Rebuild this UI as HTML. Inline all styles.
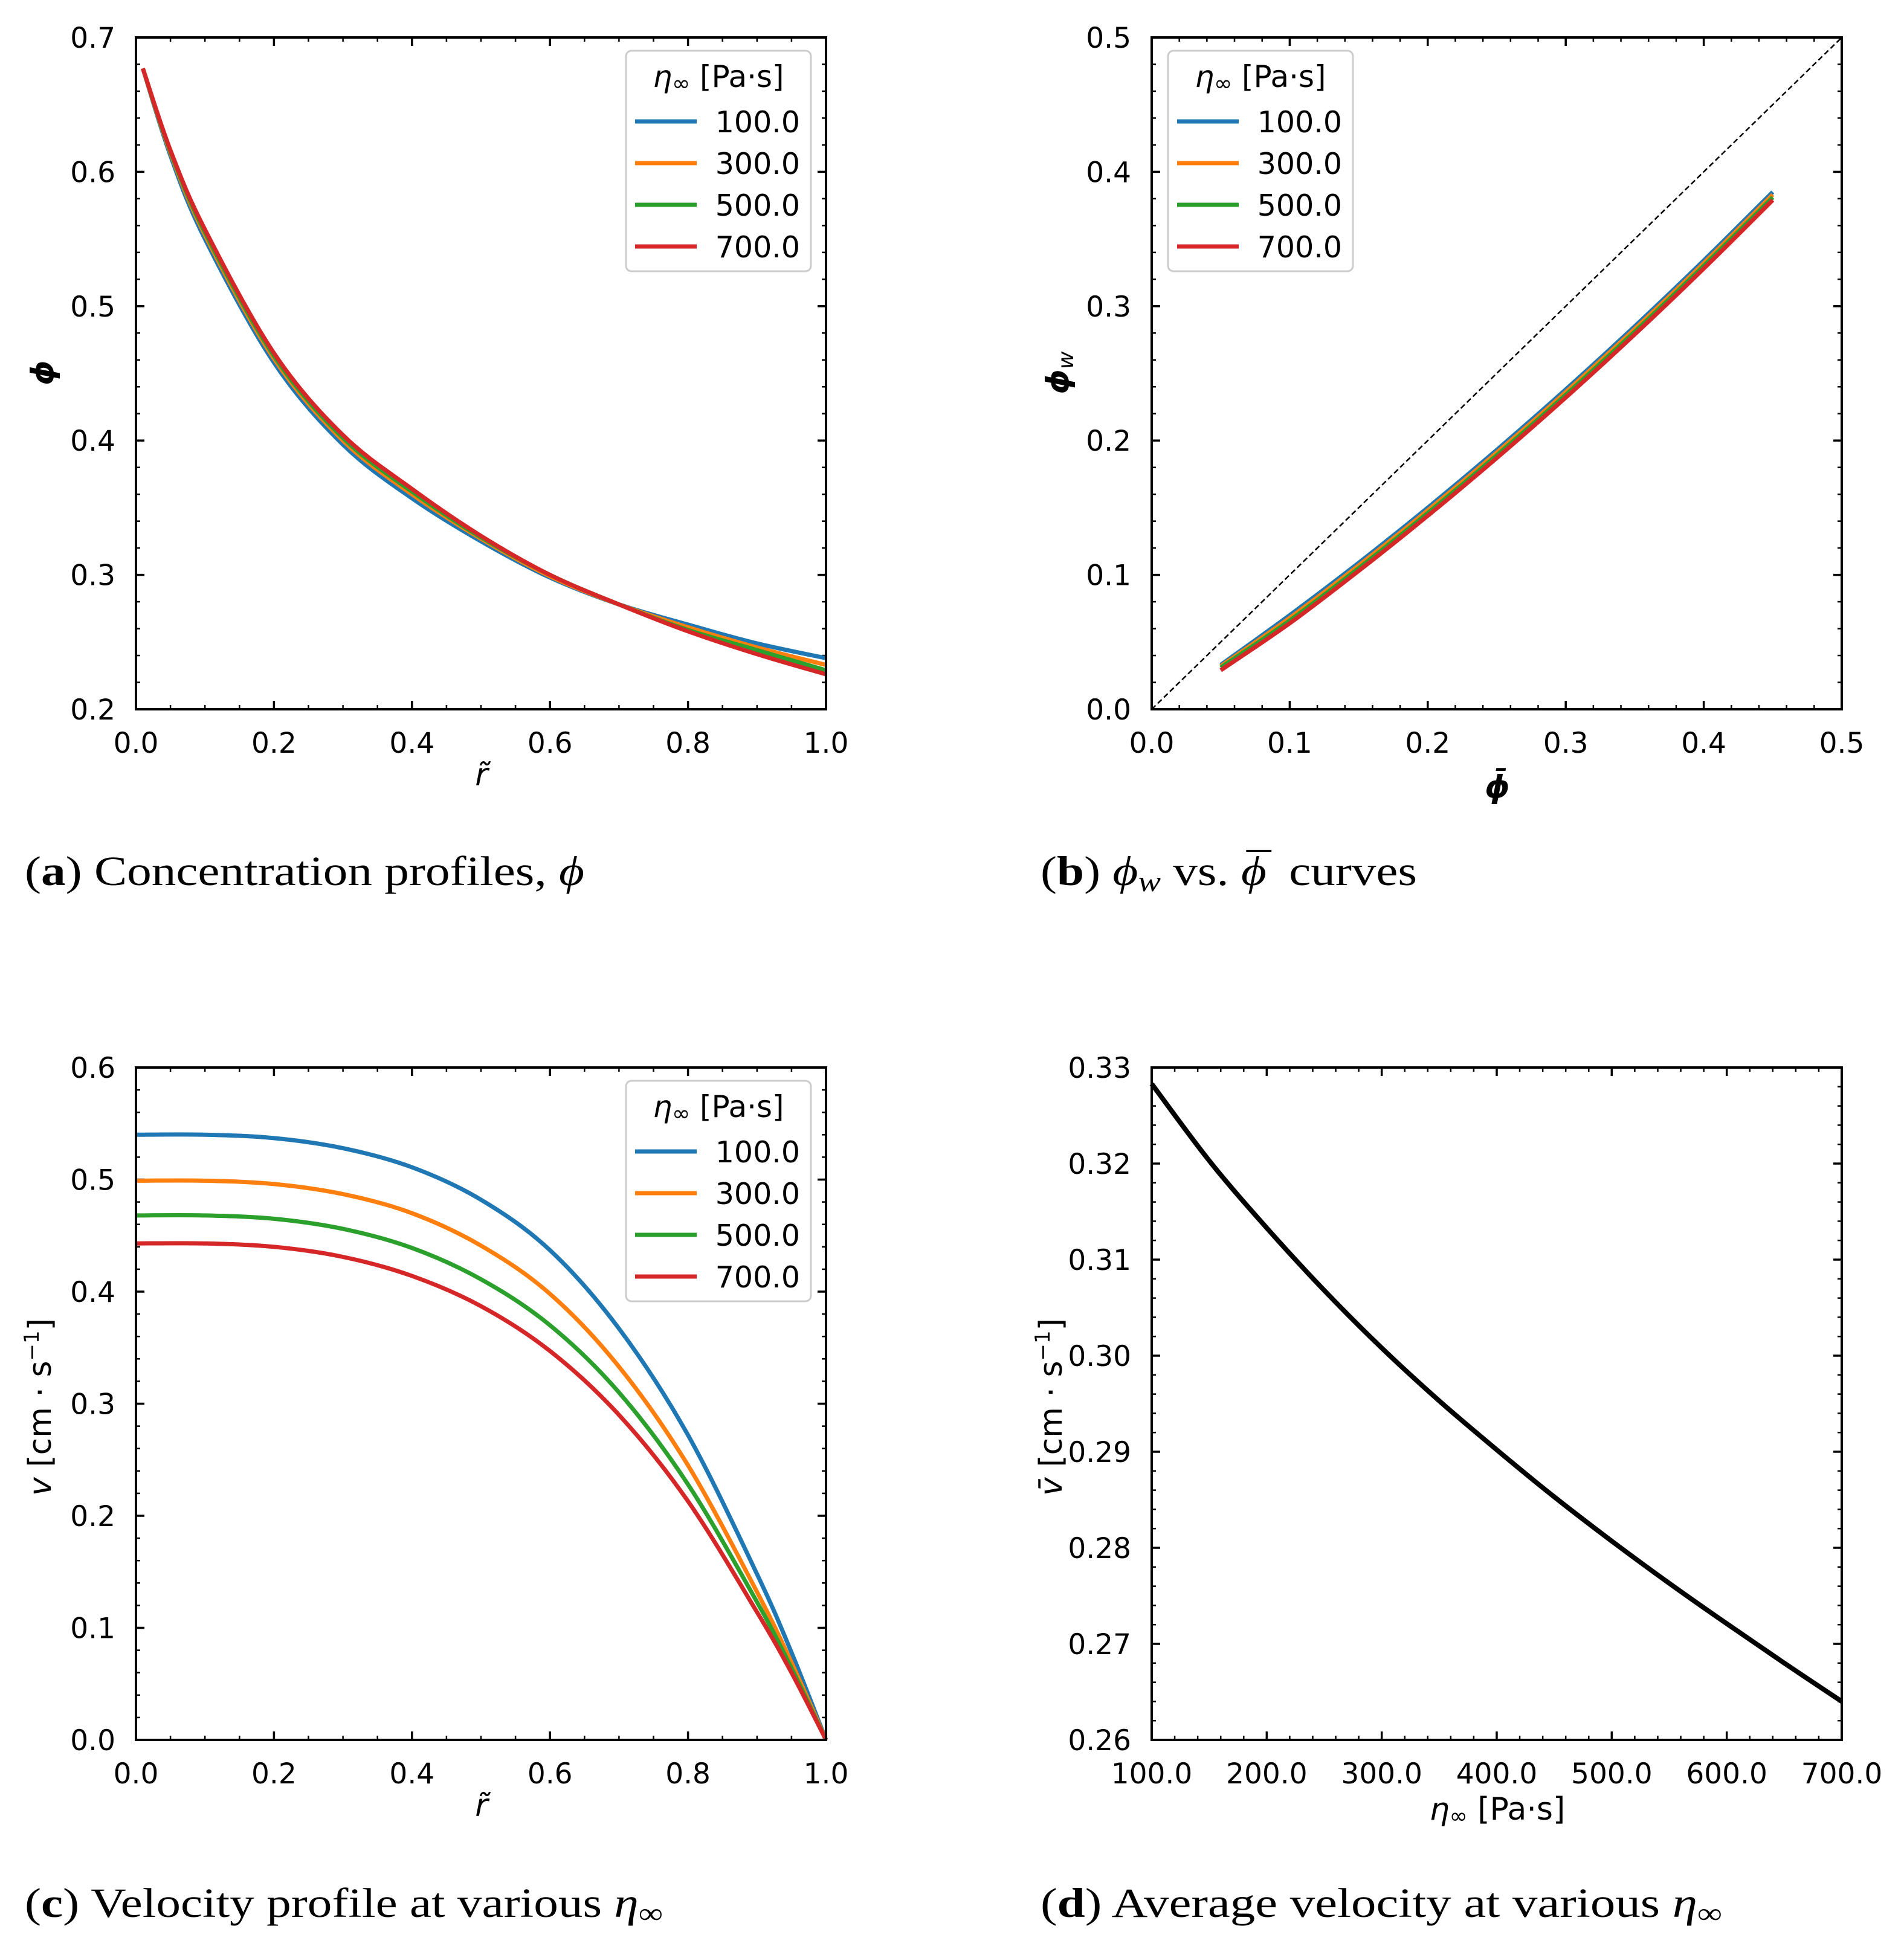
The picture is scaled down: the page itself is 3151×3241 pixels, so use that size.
<!DOCTYPE html>
<html><head><meta charset="utf-8"><style>
html,body{margin:0;padding:0;background:#fff;}
svg{display:block;}
text{font-family:"DejaVu Sans","Liberation Sans",sans-serif;}
.cap{font-family:"Liberation Serif","DejaVu Serif",serif;font-size:69px;}
</style></head><body>
<svg id="fig" xmlns="http://www.w3.org/2000/svg" width="3151" height="3241" viewBox="0 0 3151 3241">
<rect width="3151" height="3241" fill="#fff"/>
<text class="cap" x="41" y="1465" textLength="926" lengthAdjust="spacingAndGlyphs">(<tspan font-weight="bold">a</tspan>) Concentration profiles, <tspan font-style="italic">ϕ</tspan></text>
<text class="cap" x="1722" y="1465" textLength="623" lengthAdjust="spacingAndGlyphs">(<tspan font-weight="bold">b</tspan>) <tspan font-style="italic">ϕ</tspan><tspan font-style="italic" font-size="48" dy="10">w</tspan><tspan dy="-10"> vs. </tspan><tspan font-style="italic">ϕ</tspan><tspan dx="-28" dy="-6">¯</tspan><tspan dx="8" dy="6"> curves</tspan></text>
<text class="cap" x="41" y="3173" textLength="1056" lengthAdjust="spacingAndGlyphs">(<tspan font-weight="bold">c</tspan>) Velocity profile at various <tspan font-style="italic">η</tspan><tspan font-size="48" dy="10">∞</tspan></text>
<text class="cap" x="1722" y="3173" textLength="1128" lengthAdjust="spacingAndGlyphs">(<tspan font-weight="bold">d</tspan>) Average velocity at various <tspan font-style="italic">η</tspan><tspan font-size="48" dy="10">∞</tspan></text>
</svg>
<script>
// ---------- data ----------
const colors = ['#1f77b4','#ff7f0e','#2ca02c','#d62728'];
const etaLabels = ['100.0','300.0','500.0','700.0'];

const rA = [0.01,0.05,0.1,0.2,0.3,0.4,0.5,0.6,0.7,0.8,0.9,1.0];
const phiBlue   = [0.677,0.612,0.550,0.458,0.397,0.357,0.325,0.298,0.278,0.263,0.249,0.238];
const phiOrange = [0.677,0.614,0.553,0.461,0.400,0.360,0.327,0.299,0.278,0.261,0.246,0.233];
const phiGreen  = [0.677,0.615,0.555,0.463,0.402,0.362,0.328,0.300,0.278,0.259,0.244,0.229];
const phiRed    = [0.677,0.616,0.557,0.465,0.404,0.364,0.329,0.300,0.278,0.258,0.241,0.226];

const phiBar = [0.05,0.1,0.15,0.2,0.25,0.3,0.35,0.4,0.45];
const phiWBlue   = [0.033,0.070,0.109,0.150,0.193,0.238,0.285,0.334,0.385];
const phiWOrange = [0.032,0.068,0.107,0.148,0.191,0.236,0.283,0.332,0.383];
const phiWGreen  = [0.031,0.066,0.105,0.146,0.189,0.234,0.281,0.330,0.381];
const phiWRed    = [0.029,0.064,0.103,0.144,0.187,0.232,0.279,0.328,0.379];

const rC = [0,0.1,0.2,0.3,0.4,0.5,0.6,0.7,0.8,0.9,0.95,1.0];
const vBlue   = [0.540,0.540,0.537,0.528,0.511,0.482,0.437,0.367,0.272,0.148,0.078,0.0];
const vOrange = [0.499,0.499,0.496,0.487,0.470,0.441,0.398,0.333,0.245,0.132,0.069,0.0];
const vGreen  = [0.468,0.468,0.465,0.456,0.439,0.411,0.370,0.310,0.228,0.123,0.064,0.0];
const vRed    = [0.443,0.443,0.440,0.431,0.414,0.387,0.347,0.290,0.213,0.114,0.060,0.0];

const etaD = [100,150,200,250,300,350,400,450,500,550,600,650,700];
const vAvg = [0.3283,0.3203,0.3133,0.3068,0.3008,0.2953,0.2902,0.2853,0.2807,0.2763,0.2721,0.2680,0.2640];

const ticksA_x = ['0.0','0.2','0.4','0.6','0.8','1.0'];
const ticksA_y = ['0.2','0.3','0.4','0.5','0.6','0.7'];
const ticksB_x = ['0.0','0.1','0.2','0.3','0.4','0.5'];
const ticksB_y = ['0.0','0.1','0.2','0.3','0.4','0.5'];
const ticksC_y = ['0.0','0.1','0.2','0.3','0.4','0.5','0.6'];
const ticksD_x = ['100.0','200.0','300.0','400.0','500.0','600.0','700.0'];
const ticksD_y = ['0.26','0.27','0.28','0.29','0.30','0.31','0.32','0.33'];

// ---------- drawing ----------
const NS='http://www.w3.org/2000/svg';
const svg=document.getElementById('fig');
function mk(tag,attrs,parent){const e=document.createElementNS(NS,tag);for(const k in attrs)e.setAttribute(k,attrs[k]);(parent||svg).appendChild(e);return e;}

function smoothPath(pts){
  let d='M'+pts[0][0].toFixed(1)+','+pts[0][1].toFixed(1);
  for(let i=0;i<pts.length-1;i++){
    const p0=pts[Math.max(0,i-1)],p1=pts[i],p2=pts[i+1],p3=pts[Math.min(pts.length-1,i+2)];
    const c1=[p1[0]+(p2[0]-p0[0])/6,p1[1]+(p2[1]-p0[1])/6];
    const c2=[p2[0]-(p3[0]-p1[0])/6,p2[1]-(p3[1]-p1[1])/6];
    d+=' C'+c1[0].toFixed(1)+','+c1[1].toFixed(1)+' '+c2[0].toFixed(1)+','+c2[1].toFixed(1)+' '+p2[0].toFixed(1)+','+p2[1].toFixed(1);
  }
  return d;
}

function panel(o){
  const g=mk('g',{});
  
  
  const X=v=>o.x+(v-o.xmin)/(o.xmax-o.xmin)*o.w;
  const Y=v=>o.y+o.h-(v-o.ymin)/(o.ymax-o.ymin)*o.h;
  o.X=X;o.Y=Y;o.g=g;
  const tk=mk('g',{stroke:'#000'},g);
  
  
  const eps=1e-9;
  for(let v=o.xmin;v<=o.xmax+eps;v+=o.xminor){const px=X(v);
    mk('line',{x1:px,x2:px,y1:o.y+o.h,y2:o.y+o.h-7,'stroke-width':2.5},tk);
    mk('line',{x1:px,x2:px,y1:o.y,y2:o.y+7,'stroke-width':2.5},tk);}
  for(let v=o.ymin;v<=o.ymax+eps;v+=o.yminor){const py=Y(v);
    mk('line',{x1:o.x,x2:o.x+7,y1:py,y2:py,'stroke-width':2.5},tk);
    mk('line',{x1:o.x+o.w,x2:o.x+o.w-7,y1:py,y2:py,'stroke-width':2.5},tk);}
  o.xt.forEach(s=>{const px=X(parseFloat(s));
    mk('line',{x1:px,x2:px,y1:o.y+o.h,y2:o.y+o.h-14,'stroke-width':3.5},tk);
    mk('line',{x1:px,x2:px,y1:o.y,y2:o.y+14,'stroke-width':3.5},tk);
    const t=mk('text',{x:px,y:o.y+o.h+72,'text-anchor':'middle','font-size':47},g);t.textContent=s;
    
    });
  o.yt.forEach(s=>{const py=Y(parseFloat(s));
    mk('line',{x1:o.x,x2:o.x+14,y1:py,y2:py,'stroke-width':3.5},tk);
    mk('line',{x1:o.x+o.w,x2:o.x+o.w-14,y1:py,y2:py,'stroke-width':3.5},tk);
    const t=mk('text',{x:o.x-34,y:py+17,'text-anchor':'end','font-size':47},g);t.textContent=s;
    
    });
  return o;
}
function frame(o){
  const r=mk('rect',{x:o.x,y:o.y,width:o.w,height:o.h,fill:'none',stroke:'#000','stroke-width':4},o.g);
  
  
}
function series(o,xs,ys,color,name,width){
  const pts=xs.map((x,i)=>[o.X(x),o.Y(ys[i])]);
  const p=mk('path',{d:smoothPath(pts),fill:'none',stroke:color,'stroke-width':width||7,'stroke-linejoin':'round','stroke-linecap':'butt'},o.g);
  
  
}
function legend(x,y,parent){
  const g=mk('g',{},parent);
  
  
  mk('rect',{x:x,y:y,width:306,height:365,rx:9,fill:'#fff','fill-opacity':0.85,stroke:'#cccccc','stroke-width':3},g);
  const t=mk('text',{x:x+153,y:y+60,'text-anchor':'middle','font-size':50},g);
  t.innerHTML='<tspan font-style="italic">η</tspan><tspan font-size="36" dy="6">∞</tspan><tspan dy="-6"> [Pa·s]</tspan>';
  
  
  etaLabels.forEach((s,i)=>{
    const ry=y+117+i*69;
    const e=mk('g',{},g);
    
    
    mk('line',{x1:x+15,x2:x+117,y1:ry,y2:ry,stroke:colors[i],'stroke-width':7},e);
    const tt=mk('text',{x:x+288,y:ry+18,'text-anchor':'end','font-size':49},e);tt.textContent=s;
  });
}
function label(txt,x,y,rot,name){
  const t=mk('text',{x:x,y:y,'text-anchor':'middle','font-size':52,transform:rot?`rotate(-90 ${x} ${y})`:''});
  t.innerHTML=txt;
  
  
}

// Panel a
const A=panel({name:'panel-a',x:225,y:62,w:1142,h:1112,xmin:0,xmax:1,ymin:0.2,ymax:0.7,xminor:0.05,yminor:0.02,xt:ticksA_x,yt:ticksA_y});
[phiBlue,phiOrange,phiGreen,phiRed].forEach((s,i)=>series(A,rA,s,colors[i],'phi-curve-'+etaLabels[i]));
frame(A);legend(1036,84,A.g);
label('<tspan font-style="italic">r̃</tspan>',797,1300,false,'x-axis-title-a');
label('<tspan font-style="italic" font-weight="bold">ϕ</tspan>',88,617,true,'y-axis-title-a');

// Panel b
const B=panel({name:'panel-b',x:1906,y:62,w:1142,h:1112,xmin:0,xmax:0.5,ymin:0,ymax:0.5,xminor:0.02,yminor:0.02,xt:ticksB_x,yt:ticksB_y});
const dl=mk('line',{x1:B.X(0),y1:B.Y(0),x2:B.X(0.5),y2:B.Y(0.5),stroke:'#000','stroke-width':2.5,'stroke-dasharray':'9,5'},B.g);


[phiWBlue,phiWOrange,phiWGreen,phiWRed].forEach((s,i)=>series(B,phiBar,s,colors[i],'phiw-curve-'+etaLabels[i]));
frame(B);legend(1933,84,B.g);
label('<tspan font-style="italic" font-weight="bold">ϕ̄</tspan>',2478,1320,false,'x-axis-title-b');
label('<tspan font-style="italic" font-weight="bold">ϕ</tspan><tspan font-style="italic" font-size="36" dy="8">w</tspan>',1768,617,true,'y-axis-title-b');

// Panel c
const C=panel({name:'panel-c',x:225,y:1767,w:1142,h:1113,xmin:0,xmax:1,ymin:0,ymax:0.6,xminor:0.05,yminor:0.02,xt:ticksA_x,yt:ticksC_y});
[vBlue,vOrange,vGreen,vRed].forEach((s,i)=>series(C,rC,s,colors[i],'velocity-curve-'+etaLabels[i]));
frame(C);legend(1036,1789,C.g);
label('<tspan font-style="italic">r̃</tspan>',797,3006,false,'x-axis-title-c');
label('<tspan font-style="italic">v</tspan> [cm · s<tspan font-size="34" dy="-20">−1</tspan><tspan dy="20">]</tspan>',84,2329,true,'y-axis-title-c');

// Panel d
const D=panel({name:'panel-d',x:1906,y:1767,w:1142,h:1113,xmin:100,xmax:700,ymin:0.26,ymax:0.33,xminor:20,yminor:0.002,xt:ticksD_x,yt:ticksD_y});
series(D,etaD,vAvg,'#000','average-velocity-curve',8);
frame(D);
label('<tspan font-style="italic">η</tspan><tspan font-size="36" dy="6">∞</tspan><tspan dy="-6"> [Pa·s]</tspan>',2478,3012,false,'x-axis-title-d');
label('<tspan font-style="italic">v̄</tspan> [cm · s<tspan font-size="34" dy="-20">−1</tspan><tspan dy="20">]</tspan>',1757,2329,true,'y-axis-title-d');
</script>
</body></html>
